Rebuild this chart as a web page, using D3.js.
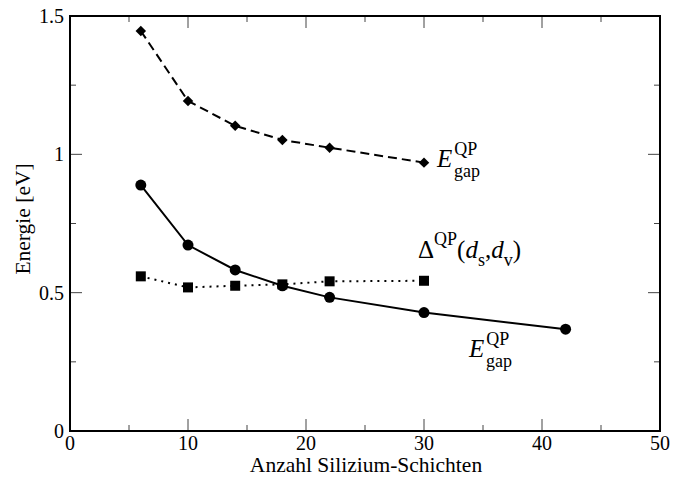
<!DOCTYPE html>
<html><head><meta charset="utf-8">
<script src="https://cdn.jsdelivr.net/npm/d3@7"></script>
<style>body{margin:0;background:#fff}svg{display:block}text{font-family:"Liberation Serif","Times New Roman",serif;fill:#000}</style>
</head><body><svg id="c" width="674" height="477"></svg>
<script>
const xLayers = [6, 10, 14, 18, 22, 30];
const xLayersLong = [6, 10, 14, 18, 22, 30, 42];
const gapUpper = [1.446, 1.193, 1.103, 1.052, 1.024, 0.970];
const gapLower = [0.889, 0.672, 0.582, 0.525, 0.483, 0.428, 0.368];
const deltaQP = [0.559, 0.519, 0.525, 0.530, 0.541, 0.543];
const xTicks = [0, 10, 20, 30, 40, 50];
const yTicks = [0, 0.5, 1, 1.5];
const yTickLabels = ["0", "0.5", "1", "1.5"];

const svg = d3.select("#c");
const L = 70, R = 660, T = 16, B = 431;
const x = d3.scaleLinear().domain([0, 50]).range([L, R]);
const y = d3.scaleLinear().domain([0, 1.5]).range([B, T]);

// ticks on all sides (inward)
const minorX = d3.range(0, 51, 5), minorY = d3.range(0, 1.51, 0.25);
const tg = svg.append("g").attr("stroke", "#444").attr("stroke-width", 1);
minorX.forEach(v => {
  const len = (v % 10 === 0) ? 12 : 6;
  tg.append("line").attr("x1", x(v)).attr("x2", x(v)).attr("y1", B).attr("y2", B - len);
  tg.append("line").attr("x1", x(v)).attr("x2", x(v)).attr("y1", T).attr("y2", T + len);
});
minorY.forEach(v => {
  const major = Math.abs(v * 2 - Math.round(v * 2)) < 1e-6;
  const len = major ? 12 : 6;
  tg.append("line").attr("y1", y(v)).attr("y2", y(v)).attr("x1", L).attr("x2", L + len);
  tg.append("line").attr("y1", y(v)).attr("y2", y(v)).attr("x1", R).attr("x2", R - len);
});
svg.append("rect").attr("x", L).attr("y", T).attr("width", R - L).attr("height", B - T)
  .attr("fill", "none").attr("stroke", "#000").attr("stroke-width", 2);

// tick labels
svg.append("g").selectAll("text").data(xTicks).join("text")
  .attr("x", d => x(d)).attr("y", 450).attr("text-anchor", "middle")
  .attr("font-size", 20).text(d => d);
svg.append("g").selectAll("text").data(yTicks).join("text")
  .attr("x", 64).attr("y", d => y(d) + 7).attr("text-anchor", "end")
  .attr("font-size", 20).text((d, i) => yTickLabels[i]);

svg.append("text").attr("x", 366).attr("y", 472).attr("text-anchor", "middle")
  .attr("font-size", 21.5).text("Anzahl Silizium-Schichten");
svg.append("text").attr("transform", `translate(30,219) rotate(-90)`)
  .attr("text-anchor", "middle").attr("font-size", 21.5).text("Energie [eV]");

const line = d3.line().x(d => x(d[0])).y(d => y(d[1]));
const up = xLayers.map((v, i) => [v, gapUpper[i]]);
const lo = xLayersLong.map((v, i) => [v, gapLower[i]]);
const de = xLayers.map((v, i) => [v, deltaQP[i]]);

svg.append("path").attr("d", line(up)).attr("fill", "none").attr("stroke", "#000")
  .attr("stroke-width", 2).attr("stroke-dasharray", "9,5");
svg.append("path").attr("d", line(lo)).attr("fill", "none").attr("stroke", "#000")
  .attr("stroke-width", 2);
svg.append("path").attr("d", line(de)).attr("fill", "none").attr("stroke", "#000")
  .attr("stroke-width", 2).attr("stroke-dasharray", "2,5");

svg.append("g").selectAll("path").data(up).join("path")
  .attr("d", d3.symbol(d3.symbolDiamond2, 70))
  .attr("transform", d => `translate(${x(d[0])},${y(d[1])})`).attr("fill", "#000");
svg.append("g").selectAll("circle").data(lo).join("circle")
  .attr("cx", d => x(d[0])).attr("cy", d => y(d[1])).attr("r", 5.5).attr("fill", "#000");
svg.append("g").selectAll("rect").data(de).join("rect")
  .attr("x", d => x(d[0]) - 5).attr("y", d => y(d[1]) - 5).attr("width", 10).attr("height", 10).attr("fill", "#000");

// labels
function eLabel(xp, yp) {
  const t = svg.append("text").attr("x", xp).attr("y", yp).attr("font-size", 25);
  t.append("tspan").attr("font-style", "italic").text("E");
  t.append("tspan").attr("font-size", 18).attr("dy", -12).attr("dx", 2).text("QP");
  t.append("tspan").attr("font-size", 18).attr("x", xp + 17).attr("dy", 22).text("gap");
}
eLabel(437, 167);
eLabel(469, 357);

const d = svg.append("text").attr("x", 418).attr("y", 258).attr("font-size", 25);
d.append("tspan").text("\u0394");
d.append("tspan").attr("font-size", 18).attr("dy", -13).text("QP");
d.append("tspan").attr("dy", 13).text("(");
d.append("tspan").attr("font-style", "italic").text("d");
d.append("tspan").attr("font-size", 18).attr("dy", 8).text("s");
d.append("tspan").attr("dy", -8).text(",");
d.append("tspan").attr("font-style", "italic").text("d");
d.append("tspan").attr("font-size", 18).attr("dy", 8).text("v");
d.append("tspan").attr("dy", -8).text(")");
</script></body></html>
